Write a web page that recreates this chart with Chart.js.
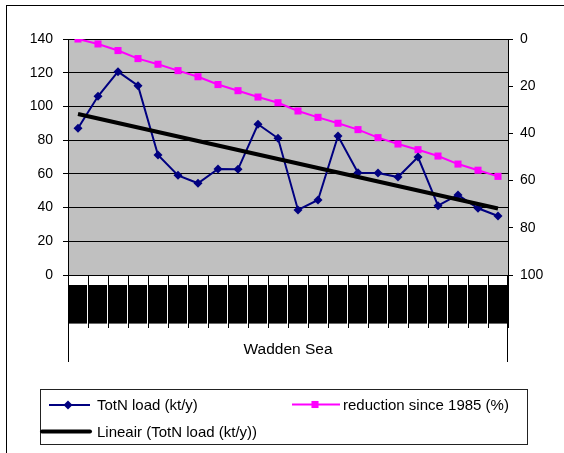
<!DOCTYPE html>
<html>
<head>
<meta charset="utf-8">
<script src="https://cdn.jsdelivr.net/npm/chart.js@4/dist/chart.umd.min.js"></script>
<style>
  html, body { margin: 0; padding: 0; background: #fff; }
  #wrap { width: 564px; height: 453px; }
</style>
</head>
<body>
<div id="wrap"><canvas id="c" width="564" height="453"></canvas></div>
<script>
// Years on the category axis
const years = ['1985','1986','1987','1988','1989','1990','1991','1992','1993','1994','1995',
               '1996','1997','1998','1999','2000','2001','2002','2003','2004','2005','2006'];
// Total nitrogen load into the Wadden Sea, kt/y (left axis)
const totN = [87, 106, 120.6, 112.3, 71.2, 59.1, 54.4, 62.9, 62.7, 89.4, 81.1,
              38.6, 44.5, 82.5, 60.7, 60.5, 58.1, 70.0, 41.1, 47.5, 39.6, 35.0];
// Reduction relative to 1985, % (right axis, reversed)
const reduction = [0, 2.1, 4.9, 8.3, 10.7, 13.4, 16.0, 19.3, 21.9, 24.6, 27.0,
                   30.5, 33.2, 35.7, 38.4, 41.8, 44.5, 46.9, 49.6, 53.0, 55.6, 58.2];
const seriesNames = ['TotN load (kt/y)', 'reduction since 1985 (%)', 'Lineair (TotN load (kt/y))'];
const groupLabel = 'Wadden Sea';

// Least-squares linear trend of the load series
function linearTrend(values) {
  const n = values.length;
  const mx = (n - 1) / 2;
  const my = values.reduce((a, b) => a + b, 0) / n;
  let sxy = 0, sxx = 0;
  values.forEach((v, i) => { sxy += (i - mx) * (v - my); sxx += (i - mx) * (i - mx); });
  const slope = sxy / sxx;
  return values.map((_, i) => my + slope * (i - mx));
}
const trend = linearTrend(totN);

const FONT = '"Liberation Sans", Arial, sans-serif';
const NAVY = '#000080', PINK = '#FF00FF', PLOT_BG = '#C0C0C0';

function drawMarker(ctx, style, x, y, r, color) {
  ctx.save();
  ctx.fillStyle = color;
  ctx.beginPath();
  if (style === 'rectRot') {
    ctx.moveTo(x - r, y); ctx.lineTo(x, y - r); ctx.lineTo(x + r, y); ctx.lineTo(x, y + r);
  } else {
    const s = r * Math.SQRT1_2;
    ctx.rect(x - s, y - s, 2 * s, 2 * s);
  }
  ctx.closePath();
  ctx.fill();
  ctx.restore();
}

// Frame, plot background, group separators and the boxed legend
const decorations = {
  id: 'decorations',
  beforeDraw(chart) {
    const {ctx, chartArea: a} = chart;
    ctx.save();
    ctx.fillStyle = '#fff';
    ctx.fillRect(0, 0, chart.width, chart.height);
    ctx.fillStyle = '#000';
    ctx.fillRect(6, 5, 1, chart.height - 5);
    ctx.fillRect(6, 5, chart.width - 6, 1);
    ctx.fillStyle = PLOT_BG;
    ctx.fillRect(a.left, a.top, a.right - a.left, a.bottom - a.top);
    ctx.restore();
  },
  afterDraw(chart) {
    const {ctx, chartArea: a} = chart;
    const xs = chart.scales.x;
    ctx.save();
    // long separators bounding the group label
    ctx.strokeStyle = '#000';
    ctx.lineWidth = 1;
    ctx.beginPath();
    ctx.moveTo(Math.round(a.left) + 0.5, a.bottom);
    ctx.lineTo(Math.round(a.left) + 0.5, xs.bottom);
    ctx.moveTo(Math.round(a.right) - 0.5, a.bottom);
    ctx.lineTo(Math.round(a.right) - 0.5, xs.bottom);
    ctx.stroke();

    // legend box
    ctx.strokeStyle = '#222';
    ctx.strokeRect(40.5, 389.5, 487, 55);

    const ds = chart.data.datasets;
    const items = [
      {d: ds[0], x0: 49, x1: 90, mx: 68, ly: 405, tx: 97, ty: 410},
      {d: ds[1], x0: 292, x1: 340, mx: 315, ly: 404.5, tx: 343, ty: 410},
      {d: ds[2], x0: 42, x1: 90, mx: null, ly: 431.5, tx: 97, ty: 436.5}
    ];
    ctx.font = '15px ' + FONT;
    ctx.textBaseline = 'alphabetic';
    ctx.textAlign = 'left';
    items.forEach(it => {
      ctx.strokeStyle = it.d.borderColor;
      ctx.lineWidth = it.d.borderWidth;
      ctx.lineCap = it.mx === null ? 'round' : 'butt';
      ctx.beginPath();
      ctx.moveTo(it.x0, it.ly);
      ctx.lineTo(it.x1, it.ly);
      ctx.stroke();
      if (it.mx !== null) drawMarker(ctx, it.d.pointStyle, it.mx, it.ly, it.d.pointRadius, it.d.pointBackgroundColor);
      ctx.fillStyle = '#000';
      ctx.fillText(it.d.label, it.tx, it.ty);
    });
    ctx.restore();
  }
};

new Chart(document.getElementById('c'), {
  type: 'line',
  data: {
    labels: years,
    datasets: [
      {
        label: seriesNames[0], data: totN, yAxisID: 'y', order: 1,
        borderColor: NAVY, borderWidth: 2, tension: 0,
        pointStyle: 'rectRot', pointRadius: 4.5,
        pointBackgroundColor: NAVY, pointBorderColor: NAVY, pointBorderWidth: 0
      },
      {
        label: seriesNames[1], data: reduction, yAxisID: 'y2', order: 2,
        borderColor: PINK, borderWidth: 2, tension: 0,
        pointStyle: 'rect', pointRadius: 5,
        pointBackgroundColor: PINK, pointBorderColor: PINK, pointBorderWidth: 0
      },
      {
        label: seriesNames[2], data: trend, yAxisID: 'y', order: 0,
        borderColor: '#000', borderWidth: 4, tension: 0, pointRadius: 0,
        pointStyle: 'line', pointBackgroundColor: '#000'
      }
    ]
  },
  options: {
    responsive: false,
    animation: false,
    events: [],
    layout: { padding: { left: 0, right: 0, top: 39, bottom: 91 } },
    plugins: { legend: { display: false }, tooltip: { enabled: false } },
    scales: {
      x: {
        type: 'category',
        offset: true,
        grid: { offset: true, drawOnChartArea: false, tickLength: 53, color: '#000', lineWidth: 1 },
        border: { color: '#000', width: 1 },
        ticks: {
          autoSkip: false, minRotation: 90, maxRotation: 90,
          color: '#000',
          font: { family: FONT, size: 16, lineHeight: 0.001 },
          padding: -43,
          showLabelBackdrop: true,
          backdropColor: '#000',
          backdropPadding: { top: 9, bottom: 9, left: 3, right: 0 }
        },
        title: {
          display: true, text: groupLabel, color: '#000',
          font: { family: FONT, size: 15.5 },
          padding: { top: 0, bottom: 3 }
        },
        afterFit(s) { s.height = 87; }
      },
      y: {
        position: 'left', min: 0, max: 140,
        grid: { color: '#000', lineWidth: 1, tickLength: 5 },
        border: { color: '#000', width: 1 },
        ticks: { stepSize: 20, padding: 10, color: '#000', font: { family: FONT, size: 14 } },
        afterFit(s) { s.width = 68; }
      },
      y2: {
        position: 'right', min: 0, max: 100, reverse: true,
        grid: { drawOnChartArea: false, color: '#000', tickLength: 5 },
        border: { color: '#000', width: 1 },
        ticks: { stepSize: 20, padding: 7, color: '#000', font: { family: FONT, size: 14 } },
        afterFit(s) { s.width = 56; }
      }
    }
  },
  plugins: [decorations]
});
</script>
</body>
</html>
